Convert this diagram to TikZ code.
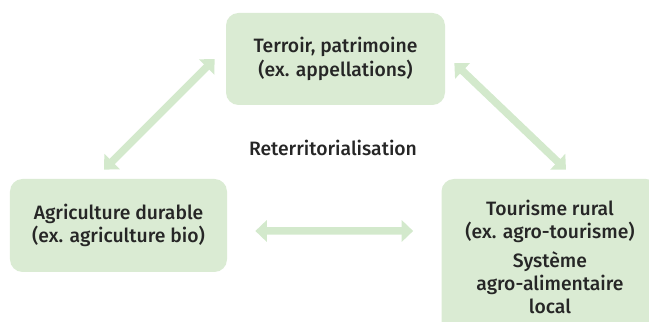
\documentclass[tikz,border=0pt]{standalone}
\usepackage{fontspec}
\setmainfont{Fira Sans}[UprightFont=* Medium]
\usepackage{tikz}
\usetikzlibrary{arrows.meta}
\definecolor{boxgreen}{HTML}{DAEBD3}
\definecolor{arrowgreen}{HTML}{D3E9CC}
\definecolor{textgray}{HTML}{262626}

\begin{document}
\begin{tikzpicture}[scale=1.0,
    theme/.style={rectangle,rounded corners=0.25cm,fill=boxgreen,text=textgray,
      align=center,font=\fontsize{11}{13.2}\selectfont,inner sep=0pt},
    link/.style={{Triangle[width=12pt,length=6.5pt]}-{Triangle[width=12pt,length=6.5pt]},
      arrowgreen,line width=0.15cm}]
    \useasboundingbox (0,0) rectangle (12.98,6.44);
    \node[theme,minimum width=4.38cm,minimum height=1.84cm] (terroir) at (6.71,5.26)
      {Terroir, patrimoine\\(ex. appellations)};
    \node[theme,minimum width=4.34cm,minimum height=1.86cm] (agri) at (2.37,1.93)
      {Agriculture durable\\(ex. agriculture bio)};
    \node[theme,minimum width=4.34cm,minimum height=3.12cm] (tourisme) at (11.0,1.30)
      {Tourisme rural\\(ex. agro-tourisme)\\[0.1cm]Système\\agro-alimentaire\\local};
    \node[text=textgray,font=\fontsize{11}{13.2}\selectfont] (reterr) at (6.66,3.48)
      {Reterritorialisation};
    \draw[link] ([xshift=-0.22cm]terroir.west) -- ([xshift=-0.29cm,yshift=0.18cm]agri.north);
    \draw[link] ([xshift=0.18cm,yshift=-0.08cm]terroir.east) -- ([xshift=0.32cm,yshift=0.18cm]tourisme.north);
    \draw[link] ([xshift=0.56cm,yshift=-0.11cm]agri.east) -- ([xshift=-0.56cm,yshift=0.52cm]tourisme.west);
  \end{tikzpicture}
\end{document}
